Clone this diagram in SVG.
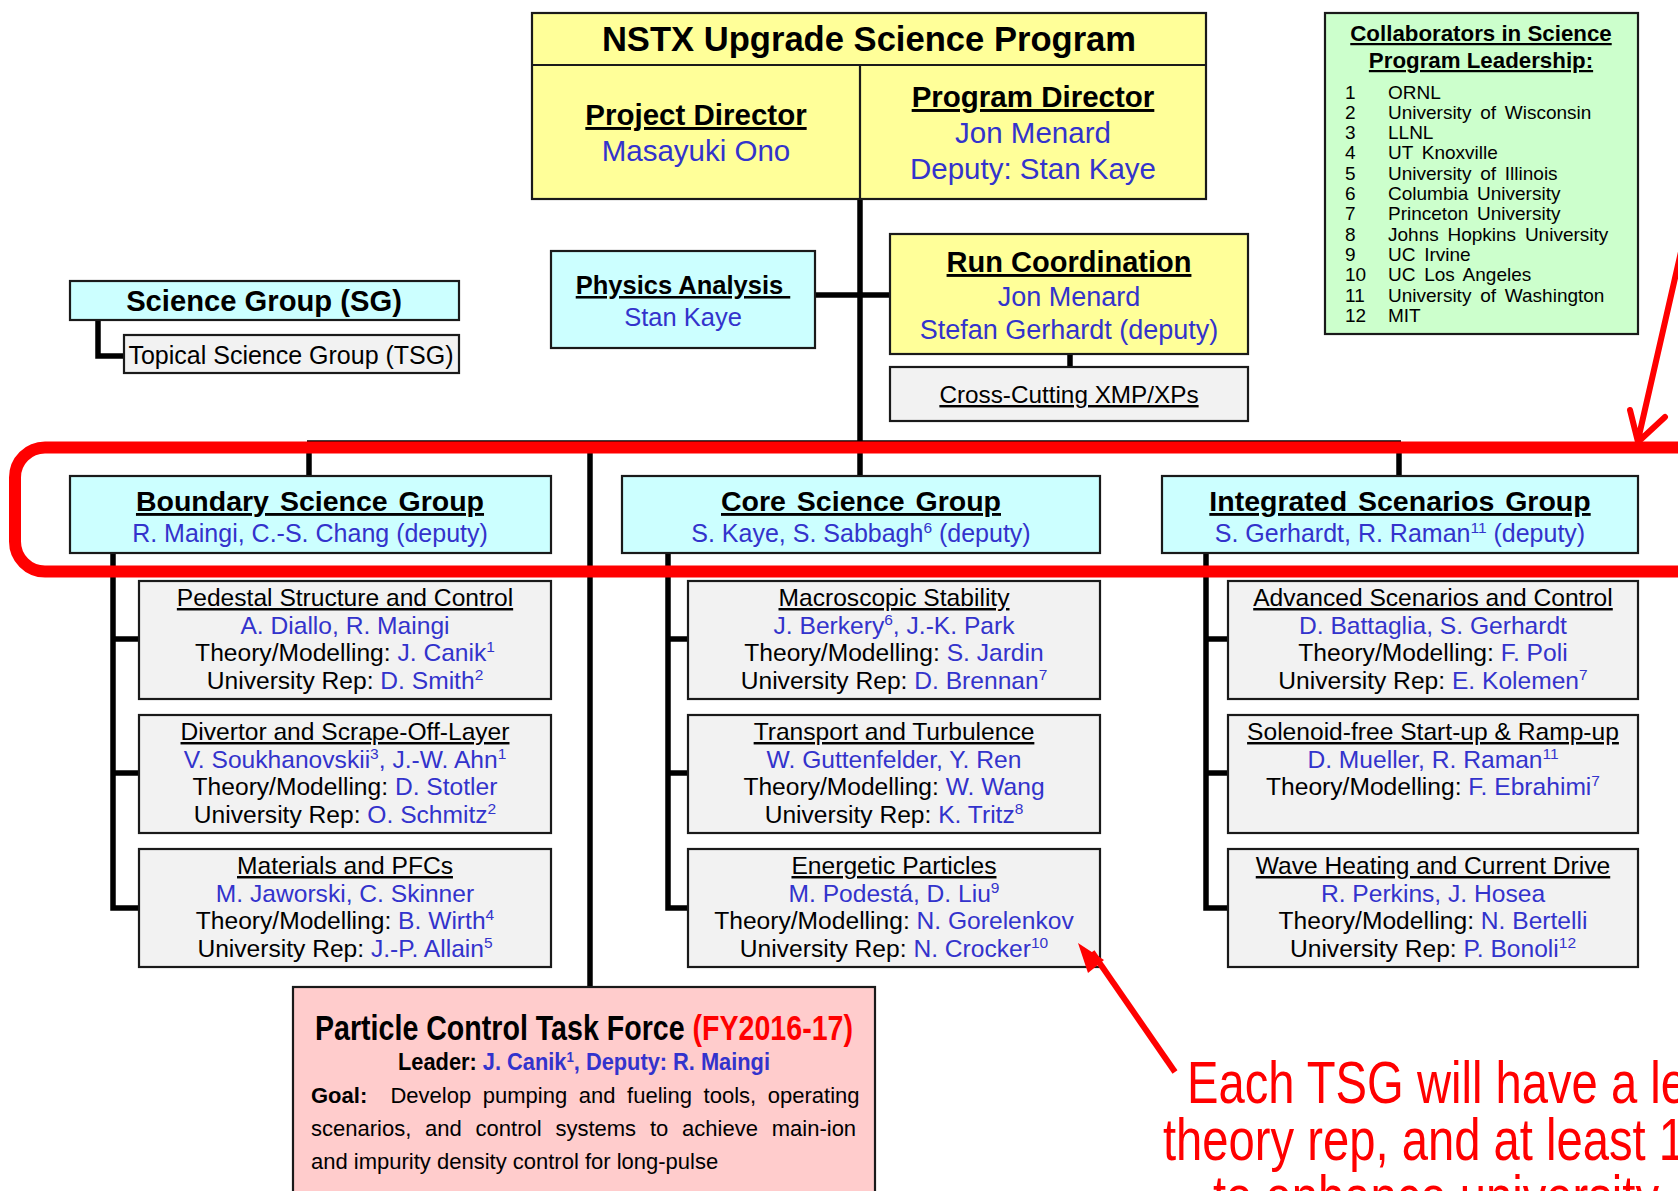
<svg xmlns="http://www.w3.org/2000/svg" width="1678" height="1191" viewBox="0 0 1678 1191">
<style>
text{font-family:"Liberation Sans",Arial,sans-serif;fill:#000}
.bx{stroke:#1a1a1a;stroke-width:2.2}
.yel{fill:#FFFF99}.cy{fill:#CCFFFF}.gr{fill:#F2F2F2}.gn{fill:#CCFFCC}.pk{fill:#FFCCCC}
.c{stroke:#000;stroke-width:5.5;fill:none}
.b{font-weight:bold}.u{text-decoration:underline}
.bl{fill:#3333CC}.rd{fill:#FF0000}
.m{text-anchor:middle}
.t{font-size:24.6px}
.gt{font-size:28.5px;font-weight:bold;text-decoration:underline;word-spacing:3px}
.gs{font-size:25px}
.cl{font-size:19px;word-spacing:3.5px}
</style>
<rect width="1678" height="1191" fill="#fff"/>

<g id="connectors">
  <path class="c" d="M860,199 V443"/>
  <path class="c" d="M815,295 H890"/>
  <path class="c" d="M1070,354 V367"/>
  <path class="c" d="M307,443 H1401"/>
  <path class="c" d="M309,443 V476 M860,443 V476 M1399,443 V476"/>
  <path class="c" d="M590,443 V987"/>
  <path class="c" d="M98,320 V356 H124"/>
  <path class="c" d="M113,553 V908 H139 M113,639 H139 M113,773 H139"/>
  <path class="c" d="M668,553 V908 H688 M668,639 H688 M668,773 H688"/>
  <path class="c" d="M1206,553 V908 H1228 M1206,639 H1228 M1206,773 H1228"/>
</g>

<g id="program">
  <rect class="bx yel" x="532" y="13" width="674" height="186"/>
  <path class="bx" d="M532,65 H1206 M860,65 V199" fill="none"/>
  <text class="b m" x="869" y="51" font-size="34.6">NSTX Upgrade Science Program</text>
  <text class="b u m" x="696" y="125" font-size="29.5">Project Director</text>
  <text class="bl m" x="696" y="161" font-size="29.5">Masayuki Ono</text>
  <text class="b u m" x="1033" y="107" font-size="29.5">Program Director</text>
  <text class="bl m" x="1033" y="143" font-size="29.5">Jon Menard</text>
  <text class="bl m" x="1033" y="179" font-size="29.5">Deputy: Stan Kaye</text>
</g>

<g id="collaborators">
  <rect class="bx gn" x="1325" y="13" width="313" height="321"/>
  <text class="b u m" x="1481" y="41" font-size="22.3">Collaborators in Science</text>
  <text class="b u m" x="1481" y="68" font-size="22.3">Program Leadership:</text>
  <g class="cl">
    <text x="1345" y="98.5">1</text><text x="1388" y="98.5">ORNL</text>
    <text x="1345" y="118.8">2</text><text x="1388" y="118.8">University of Wisconsin</text>
    <text x="1345" y="139.1">3</text><text x="1388" y="139.1">LLNL</text>
    <text x="1345" y="159.4">4</text><text x="1388" y="159.4">UT Knoxville</text>
    <text x="1345" y="179.7">5</text><text x="1388" y="179.7">University of Illinois</text>
    <text x="1345" y="200">6</text><text x="1388" y="200">Columbia University</text>
    <text x="1345" y="220.3">7</text><text x="1388" y="220.3">Princeton University</text>
    <text x="1345" y="240.6">8</text><text x="1388" y="240.6">Johns Hopkins University</text>
    <text x="1345" y="260.9">9</text><text x="1388" y="260.9">UC Irvine</text>
    <text x="1345" y="281.2">10</text><text x="1388" y="281.2">UC Los Angeles</text>
    <text x="1345" y="301.5">11</text><text x="1388" y="301.5">University of Washington</text>
    <text x="1345" y="321.8">12</text><text x="1388" y="321.8">MIT</text>
  </g>
</g>

<g id="science-group">
  <rect class="bx cy" x="70" y="281" width="389" height="39"/>
  <text class="b m" x="264" y="311" font-size="29.2">Science Group (SG)</text>
</g>
<g id="topical-science-group">
  <rect class="bx gr" x="124" y="335" width="335" height="38"/>
  <text class="m" x="291" y="364" font-size="25">Topical Science Group (TSG)</text>
</g>

<g id="physics-analysis">
  <rect class="bx cy" x="551" y="251" width="264" height="97"/>
  <text class="b u m" x="683" y="294" font-size="25.5" xml:space="preserve">Physics Analysis </text>
  <text class="bl m" x="683" y="326" font-size="25.5">Stan Kaye</text>
</g>

<g id="run-coordination">
  <rect class="bx yel" x="890" y="234" width="358" height="120"/>
  <text class="b u m" x="1069" y="272" font-size="29">Run Coordination</text>
  <text class="bl m" x="1069" y="306" font-size="27">Jon Menard</text>
  <text class="bl m" x="1069" y="339" font-size="27">Stefan Gerhardt (deputy)</text>
</g>

<g id="cross-cutting">
  <rect class="bx gr" x="890" y="367" width="358" height="54"/>
  <text class="u m" x="1069" y="403" font-size="24.3">Cross-Cutting XMP/XPs</text>
</g>

<g id="boundary-science-group">
  <rect class="bx cy" x="70" y="476" width="481" height="77"/>
  <text class="gt m" x="310" y="511">Boundary Science Group</text>
  <text class="gs bl m" x="310" y="542">R. Maingi, C.-S. Chang (deputy)</text>
</g>
<g id="core-science-group">
  <rect class="bx cy" x="622" y="476" width="478" height="77"/>
  <text class="gt m" x="861" y="511">Core Science Group</text>
  <text class="gs bl m" x="861" y="542">S. Kaye, S. Sabbagh<tspan dy="-9" font-size="15.5">6</tspan><tspan dy="9"> (deputy)</tspan></text>
</g>
<g id="integrated-scenarios-group">
  <rect class="bx cy" x="1162" y="476" width="476" height="77"/>
  <text class="gt m" x="1400" y="511">Integrated Scenarios Group</text>
  <text class="gs bl m" x="1400" y="542">S. Gerhardt, R. Raman<tspan dy="-9" font-size="15.5">11</tspan><tspan dy="9"> (deputy)</tspan></text>
</g>

<g class="t">
<g id="pedestal">
  <rect class="bx gr" x="139" y="581" width="412" height="118"/>
  <text class="u m" x="345" y="606">Pedestal Structure and Control</text>
  <text class="bl m" x="345" y="634">A. Diallo, R. Maingi</text>
  <text class="m" x="345" y="661">Theory/Modelling: <tspan class="bl">J. Canik</tspan><tspan class="bl" dy="-9" font-size="15.5">1</tspan></text>
  <text class="m" x="345" y="689">University Rep: <tspan class="bl">D. Smith</tspan><tspan class="bl" dy="-9" font-size="15.5">2</tspan></text>
</g>
<g id="divertor">
  <rect class="bx gr" x="139" y="715" width="412" height="118"/>
  <text class="u m" x="345" y="740">Divertor and Scrape-Off-Layer</text>
  <text class="bl m" x="345" y="768">V. Soukhanovskii<tspan dy="-9" font-size="15.5">3</tspan><tspan dy="9">, J.-W. Ahn</tspan><tspan dy="-9" font-size="15.5">1</tspan></text>
  <text class="m" x="345" y="795">Theory/Modelling: <tspan class="bl">D. Stotler</tspan></text>
  <text class="m" x="345" y="823">University Rep: <tspan class="bl">O. Schmitz</tspan><tspan class="bl" dy="-9" font-size="15.5">2</tspan></text>
</g>
<g id="materials">
  <rect class="bx gr" x="139" y="849" width="412" height="118"/>
  <text class="u m" x="345" y="874">Materials and PFCs</text>
  <text class="bl m" x="345" y="902">M. Jaworski, C. Skinner</text>
  <text class="m" x="345" y="929">Theory/Modelling: <tspan class="bl">B. Wirth</tspan><tspan class="bl" dy="-9" font-size="15.5">4</tspan></text>
  <text class="m" x="345" y="957">University Rep: <tspan class="bl">J.-P. Allain</tspan><tspan class="bl" dy="-9" font-size="15.5">5</tspan></text>
</g>

<g id="macroscopic">
  <rect class="bx gr" x="688" y="581" width="412" height="118"/>
  <text class="u m" x="894" y="606">Macroscopic Stability</text>
  <text class="bl m" x="894" y="634">J. Berkery<tspan dy="-9" font-size="15.5">6</tspan><tspan dy="9">, J.-K. Park</tspan></text>
  <text class="m" x="894" y="661">Theory/Modelling: <tspan class="bl">S. Jardin</tspan></text>
  <text class="m" x="894" y="689">University Rep: <tspan class="bl">D. Brennan</tspan><tspan class="bl" dy="-9" font-size="15.5">7</tspan></text>
</g>
<g id="transport">
  <rect class="bx gr" x="688" y="715" width="412" height="118"/>
  <text class="u m" x="894" y="740">Transport and Turbulence</text>
  <text class="bl m" x="894" y="768">W. Guttenfelder, Y. Ren</text>
  <text class="m" x="894" y="795">Theory/Modelling: <tspan class="bl">W. Wang</tspan></text>
  <text class="m" x="894" y="823">University Rep: <tspan class="bl">K. Tritz</tspan><tspan class="bl" dy="-9" font-size="15.5">8</tspan></text>
</g>
<g id="energetic">
  <rect class="bx gr" x="688" y="849" width="412" height="118"/>
  <text class="u m" x="894" y="874">Energetic Particles</text>
  <text class="bl m" x="894" y="902">M. Podestá, D. Liu<tspan dy="-9" font-size="15.5">9</tspan></text>
  <text class="m" x="894" y="929">Theory/Modelling: <tspan class="bl">N. Gorelenkov</tspan></text>
  <text class="m" x="894" y="957">University Rep: <tspan class="bl">N. Crocker</tspan><tspan class="bl" dy="-9" font-size="15.5">10</tspan></text>
</g>

<g id="advanced">
  <rect class="bx gr" x="1228" y="581" width="410" height="118"/>
  <text class="u m" x="1433" y="606">Advanced Scenarios and Control</text>
  <text class="bl m" x="1433" y="634">D. Battaglia, S. Gerhardt</text>
  <text class="m" x="1433" y="661">Theory/Modelling: <tspan class="bl">F. Poli</tspan></text>
  <text class="m" x="1433" y="689">University Rep: <tspan class="bl">E. Kolemen</tspan><tspan class="bl" dy="-9" font-size="15.5">7</tspan></text>
</g>
<g id="solenoid">
  <rect class="bx gr" x="1228" y="715" width="410" height="118"/>
  <text class="u m" x="1433" y="740">Solenoid-free Start-up &amp; Ramp-up</text>
  <text class="bl m" x="1433" y="768">D. Mueller, R. Raman<tspan dy="-9" font-size="15.5">11</tspan></text>
  <text class="m" x="1433" y="795">Theory/Modelling: <tspan class="bl">F. Ebrahimi</tspan><tspan class="bl" dy="-9" font-size="15.5">7</tspan></text>
</g>
<g id="wave">
  <rect class="bx gr" x="1228" y="849" width="410" height="118"/>
  <text class="u m" x="1433" y="874">Wave Heating and Current Drive</text>
  <text class="bl m" x="1433" y="902">R. Perkins, J. Hosea</text>
  <text class="m" x="1433" y="929">Theory/Modelling: <tspan class="bl">N. Bertelli</tspan></text>
  <text class="m" x="1433" y="957">University Rep: <tspan class="bl">P. Bonoli</tspan><tspan class="bl" dy="-9" font-size="15.5">12</tspan></text>
</g>
</g>

<g id="particle-control-task-force">
  <rect class="bx pk" x="293" y="987" width="582" height="220"/>
  <text class="b" x="315" y="1040" font-size="35" textLength="538" lengthAdjust="spacingAndGlyphs">Particle Control Task Force <tspan class="rd">(FY2016-17)</tspan></text>
  <text class="b" x="398" y="1070" font-size="23" textLength="372" lengthAdjust="spacingAndGlyphs">Leader: <tspan class="bl">J. Canik</tspan><tspan class="bl" dy="-8" font-size="14">1</tspan><tspan class="bl" dy="8">, Deputy:  R. Maingi</tspan></text>
  <text x="311" y="1103" font-size="22" word-spacing="5.5" xml:space="preserve"><tspan class="b">Goal:</tspan>  Develop pumping and fueling tools, operating</text>
  <text x="311" y="1136" font-size="22" word-spacing="7.7">scenarios, and control systems to achieve main-ion</text>
  <text x="311" y="1169" font-size="22">and impurity density control for long-pulse</text>
</g>

<g id="highlight">
  <rect x="15" y="447.5" width="1720" height="124" rx="30" fill="none" stroke="#FF0000" stroke-width="12"/>
  <path d="M1686,230 L1638,440 M1630,410 L1638,442 L1665,417" fill="none" stroke="#FF0000" stroke-width="6" stroke-linecap="round" stroke-linejoin="round"/>
  <path d="M1175,1072 L1092,952" fill="none" stroke="#FF0000" stroke-width="6"/>
  <path d="M1078,943 L1088,973 L1104,960 Z" fill="#FF0000"/>
  <text class="rd" x="1187" y="1103" font-size="59" textLength="500" lengthAdjust="spacingAndGlyphs">Each TSG will have a le</text>
  <text class="rd" x="1163" y="1160" font-size="59" textLength="522" lengthAdjust="spacingAndGlyphs">theory rep, and at least 1</text>
  <text class="rd" x="1213" y="1217" font-size="59" textLength="446" lengthAdjust="spacingAndGlyphs">to enhance university</text>
</g>
</svg>
